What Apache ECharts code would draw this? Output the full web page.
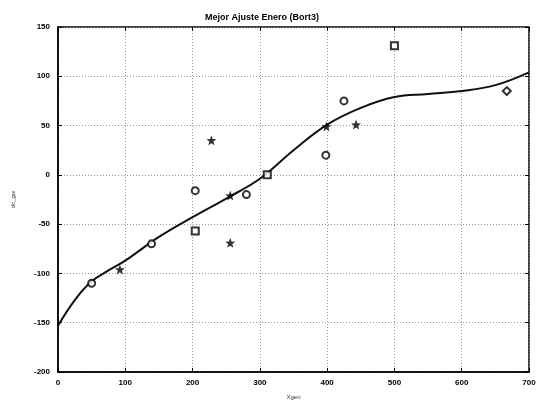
<!DOCTYPE html>
<html><head><meta charset="utf-8">
<script src="https://cdn.jsdelivr.net/npm/echarts@6/dist/echarts.min.js"></script>
<style>html,body{margin:0;padding:0;background:#fff}#c{width:545px;height:405px}</style>
</head><body><div id="c"></div>
<script>
const titleText = "Mejor Ajuste Enero (Bort3)";
const xName = "Xgen";
const yName = "dc_gw";
const xTicks = [0, 100, 200, 300, 400, 500, 600, 700];
const yTicks = [-200, -150, -100, -50, 0, 50, 100, 150];

// fitted curve
const fitX = [0, 25, 50, 75, 100, 150, 200, 250, 300, 350, 400, 450, 500, 550, 600, 650, 700];
const fitY = [-153, -127, -108, -97, -87, -63, -43, -24, -4, 25, 51, 68, 79, 82, 85, 91, 104];

// observations by marker type
const circX = [50, 139, 204, 280, 398, 425];
const circY = [-110, -70, -16, -20, 20, 75];
const starX = [92, 228, 256, 256, 399, 443];
const starY = [-96, 35, -21, -69, 49, 51];
const sqX = [204, 311, 500];
const sqY = [-57, 0, 131];
const diaX = [667];
const diaY = [85];

const zip = (a, b) => a.map((v, i) => [v, b[i]]);
const starPath = 'path://M0,-10 L2.4,-3.3 L9.5,-3.1 L3.9,1.3 L5.9,8.1 L0,4.1 L-5.9,8.1 L-3.9,1.3 L-9.5,-3.1 L-2.4,-3.3 Z';

const chart = echarts.init(document.getElementById('c'));
const axisFont = {fontFamily: 'Liberation Sans', fontSize: 8, fontWeight: 'bold', color: '#000'};
const gridLine = {show: true, lineStyle: {color: '#999', type: [1, 2], width: 1}};
const tick = {show: true, inside: true, length: 4, lineStyle: {color: '#000'}};
chart.setOption({
  animation: false,
  backgroundColor: '#fff',
  title: {text: titleText, left: 200, top: 8,
    textStyle: {fontFamily: 'Liberation Sans', fontSize: 9, fontWeight: 'bold', color: '#000'}},
  grid: {left: 58, right: 16, top: 27, bottom: 33, show: true, borderColor: '#000', borderWidth: 1.5},
  xAxis: [{
    type: 'value', min: xTicks[0], max: xTicks[xTicks.length - 1], interval: 100,
    name: xName, nameLocation: 'middle', nameGap: 22,
    nameTextStyle: {fontFamily: 'Liberation Sans', fontSize: 6, color: '#333'},
    axisLine: {show: true, onZero: false, lineStyle: {color: '#000', width: 1.5}},
    axisTick: tick,
    axisLabel: Object.assign({margin: 7}, axisFont),
    splitLine: gridLine
  }, {
    type: 'value', position: 'top', min: 0, max: 700, interval: 100,
    axisLine: {show: false, onZero: false}, axisTick: tick,
    axisLabel: {show: false}, splitLine: {show: false}
  }],
  yAxis: [{
    type: 'value', min: yTicks[0], max: yTicks[yTicks.length - 1], interval: 50,
    name: yName, nameLocation: 'middle', nameGap: 42, nameRotate: 90,
    nameTextStyle: {fontFamily: 'Liberation Sans', fontSize: 6, color: '#333'},
    axisLine: {show: true, onZero: false, lineStyle: {color: '#000', width: 1.5}},
    axisTick: tick,
    axisLabel: Object.assign({margin: 8}, axisFont),
    splitLine: gridLine
  }, {
    type: 'value', position: 'right', min: -200, max: 150, interval: 50,
    axisLine: {show: false, onZero: false}, axisTick: tick,
    axisLabel: {show: false}, splitLine: {show: false}
  }],
  series: [
    {type: 'line', data: zip(fitX, fitY), smooth: 0.4, symbol: 'none',
      lineStyle: {color: '#111', width: 2}, z: 3},
    {type: 'scatter', data: zip(circX, circY), symbol: 'emptyCircle', symbolSize: 7,
      itemStyle: {color: '#000', borderColor: '#000', borderWidth: 2}, z: 4},
    {type: 'scatter', data: zip(starX, starY), symbol: starPath, symbolSize: 10,
      itemStyle: {color: '#000'}, z: 4},
    {type: 'scatter', data: zip(sqX, sqY), symbol: 'emptyRect', symbolSize: 7,
      itemStyle: {color: '#000', borderColor: '#000', borderWidth: 2}, z: 4},
    {type: 'scatter', data: zip(diaX, diaY), symbol: 'emptyDiamond', symbolSize: 8,
      itemStyle: {color: '#000', borderColor: '#000', borderWidth: 1.5}, z: 4}
  ]
});
</script></body></html>
